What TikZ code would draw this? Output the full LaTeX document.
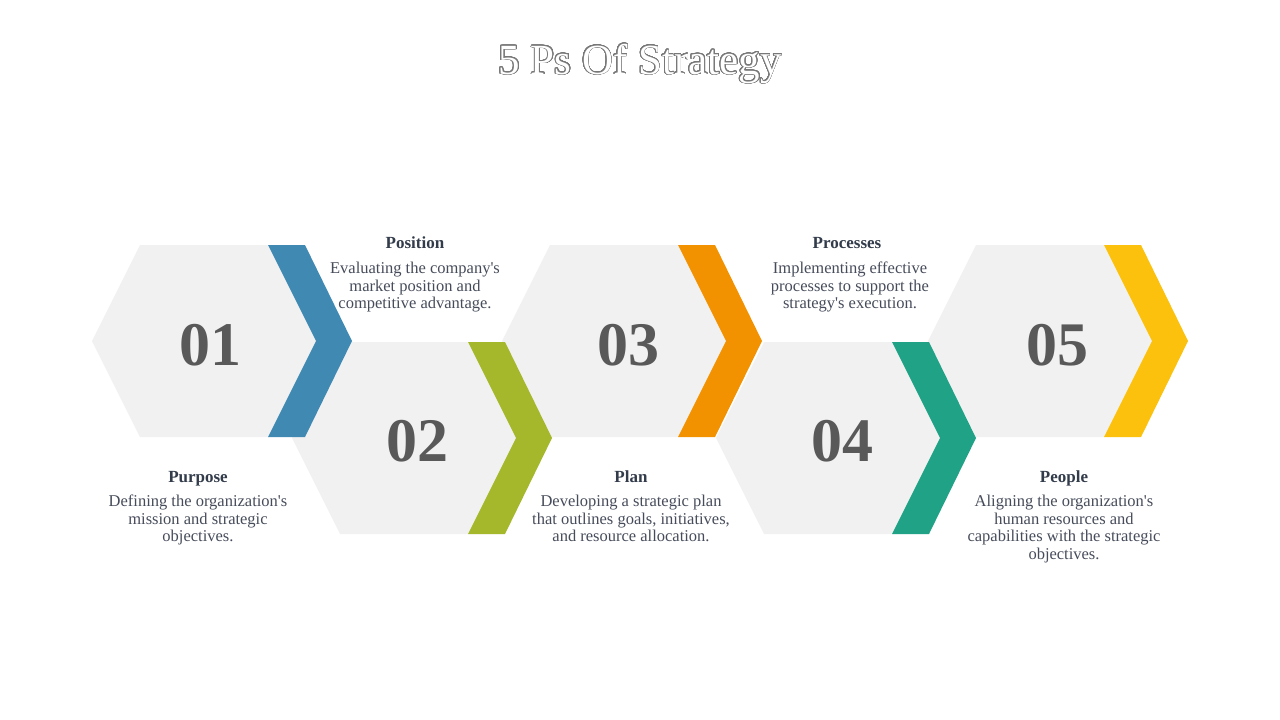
\documentclass[tikz,border=0pt]{standalone}
\usepackage{fontspec}
\setmainfont{Liberation Serif}[Ligatures=TeXOff]
\usepackage{contour}
\contourlength{0.7pt}
\contournumber{32}
\definecolor{hexgray}{RGB}{241,241,241}
\definecolor{cblue}{RGB}{63,137,179}
\definecolor{cgreen}{RGB}{165,183,42}
\definecolor{corange}{RGB}{243,146,0}
\definecolor{cteal}{RGB}{31,162,134}
\definecolor{cyellow}{RGB}{252,193,12}
\definecolor{numgray}{RGB}{89,89,89}
\definecolor{headc}{RGB}{51,60,75}
\definecolor{bodyc}{RGB}{70,76,90}
\definecolor{titlec}{RGB}{120,120,120}
\tikzset{
  numtext/.style={font=\fontsize{62}{62}\selectfont\bfseries, text=numgray, inner sep=0pt},
  headtext/.style={font=\fontsize{17}{17.5}\selectfont\bfseries, text=headc, inner sep=0pt, anchor=base},
  bodytext/.style={font=\fontsize{16.5}{17.5}\selectfont, text=bodyc, inner sep=0pt, align=center, anchor=north},
}
\begin{document}
\begin{tikzpicture}[x=1pt,y=-1pt]
\path[use as bounding box, fill=white] (0,0) rectangle (1280,720);
% title
\node[anchor=base, inner sep=0pt, font=\fontsize{43}{43}\selectfont] (title) at (640,74)
  {\contour{titlec}{\textcolor{white}{5 Ps Of Strategy}}};
% gray hexagons
\foreach \L/\c in {92/341, 292/438, 502/341, 716/438, 928/341}{
  \fill[hexgray] (\L,\c) -- ++(48,-96) -- ++(128,0) -- ++(48,96) -- ++(-48,96) -- ++(-128,0) -- cycle;
}
% chevrons
\foreach \L/\c/\col in {92/341/cblue, 292/438/cgreen, 502/341/corange, 716/438/cteal, 928/341/cyellow}{
  \fill[\col] (\L+176,\c-96) -- ++(37,0) -- ++(47,96) -- ++(-47,96) -- ++(-37,0) -- ++(48,-96) -- cycle;
}
% numbers
\node[numtext] (n1) at (210,345) {01};
\node[numtext] (n2) at (417,441) {02};
\node[numtext] (n3) at (628,345) {03};
\node[numtext] (n4) at (842,441) {04};
\node[numtext] (n5) at (1057,345) {05};
% headings
\node[headtext] (h1) at (198,482) {Purpose};
\node[headtext] (h2) at (415,248) {Position};
\node[headtext] (h3) at (631,482) {Plan};
\node[headtext] (h4) at (847,248) {Processes};
\node[headtext] (h5) at (1064,482) {People};
% body texts
\node[bodytext] (b1) at (198,495) {Defining the organization's\\mission and strategic\\objectives.};
\node[bodytext] (b2) at (415,262) {Evaluating the company's\\market position and\\competitive advantage.};
\node[bodytext] (b3) at (631,495) {Developing a strategic plan\\that outlines goals, initiatives,\\and resource allocation.};
\node[bodytext] (b4) at (850,262) {Implementing effective\\processes to support the\\strategy's execution.};
\node[bodytext] (b5) at (1064,495) {Aligning the organization's\\human resources and\\capabilities with the strategic\\objectives.};
\end{tikzpicture}
\end{document}
